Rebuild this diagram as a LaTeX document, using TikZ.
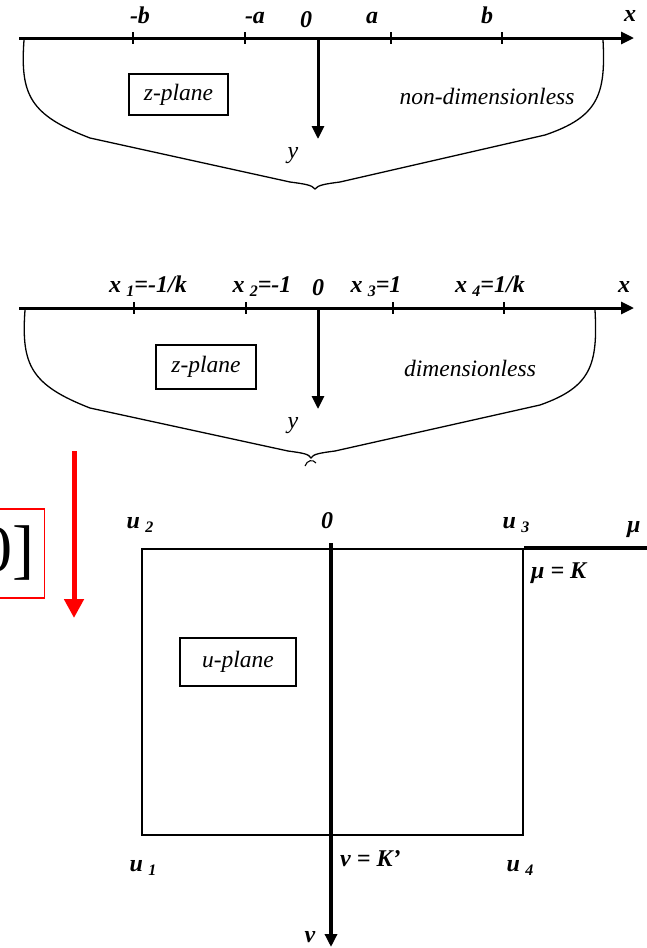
\documentclass[tikz,border=0pt]{standalone}
\usepackage{fontspec}
\setmainfont{Liberation Serif}
\usetikzlibrary{arrows.meta}

% lowered index, as in "x 1"
\newcommand{\lowidx}[1]{\hspace{0.22em}\raisebox{-0.4ex}{\fontsize{16}{16}\selectfont #1}}

\begin{document}
\begin{tikzpicture}[x=1pt, y=-1pt, >={Triangle[length=13pt,width=12pt]},
    axis/.style={line width=3pt, ->},
    tick/.style={line width=1.4pt},
    brace/.style={line width=1.3pt},
    lbl/.style={font=\fontsize{24}{26}\selectfont\bfseries\itshape, anchor=base, inner sep=0pt},
    note/.style={font=\fontsize{23.5}{24}\selectfont\itshape, anchor=base, inner sep=0pt},
    plane/.style={draw, line width=1.6pt, font=\fontsize{23.5}{24}\selectfont\itshape, inner sep=0pt}]
  \useasboundingbox (0,0) rectangle (646,948);
  % ---------------- z-plane, non-dimensionless ----------------
  \coordinate (xl1) at (19,38);
  \coordinate (xr1) at (634,38);
  \coordinate (o1) at (318,38);
  \coordinate (yt1) at (318,139);
  \draw[axis] (xl1) -- (xr1);
  \draw[axis] (o1) -- (yt1);
  \foreach \t in {133,245,391,502} \draw[tick] (\t,32) -- (\t,44);
  \node[lbl] (mb) at (140,23) {-b};
  \node[lbl] (ma) at (255,23) {-a};
  \node[lbl] (z1) at (306,27) {0};
  \node[lbl] (pa) at (372,23) {a};
  \node[lbl] (pb) at (487,23) {b};
  \node[lbl] (x1) at (630,21) {x};
  \node[lbl, font=\fontsize{24}{26}\selectfont\itshape] (y1) at (293,158) {y};
  \node[plane, minimum width=99pt, minimum height=41pt] (zp1) at (178.5,94.5) {z-plane};
  \node[note] (nd) at (487,104) {non-dimensionless};
  \draw[brace] (24,40) .. controls (20,95) and (30,115) .. (90,138) -- (290,182)
     .. controls (305,184) and (312,185) .. (315,189)
     .. controls (318,185) and (325,184) .. (340,182) -- (545,135)
     .. controls (598,117) and (606,95) .. (603,40);
  % ---------------- z-plane, dimensionless ----------------
  \coordinate (xl2) at (19,308);
  \coordinate (xr2) at (634,308);
  \coordinate (o2) at (318,308);
  \coordinate (yt2) at (318,409);
  \draw[axis] (xl2) -- (xr2);
  \draw[axis] (o2) -- (yt2);
  \foreach \t in {134,246,393,504} \draw[tick] (\t,302) -- (\t,314);
  \node[lbl] (q1) at (148,292) {x\lowidx{1}=-1/k};
  \node[lbl] (q2) at (262,292) {x\lowidx{2}=-1};
  \node[lbl] (z2) at (318,295) {0};
  \node[lbl] (q3) at (376,292) {x\lowidx{3}=1};
  \node[lbl] (q4) at (490,292) {x\lowidx{4}=1/k};
  \node[lbl] (x2) at (624,292) {x};
  \node[lbl, font=\fontsize{24}{26}\selectfont\itshape] (y2) at (293,428) {y};
  \node[plane, minimum width=100pt, minimum height=44pt] (zp2) at (206,367) {z-plane};
  \node[note] (dl) at (470,376) {dimensionless};
  \draw[brace] (25,310) .. controls (21,365) and (31,385) .. (90,408) -- (288,451)
     .. controls (303,453) and (309,454) .. (311,458)
     .. controls (313,454) and (320,453) .. (335,451) -- (540,405)
     .. controls (591,387) and (598,365) .. (595,310);
  \draw[line width=1.1pt] (305,466) .. controls (307,460) and (313,459) .. (316,463);
  % ---------------- cut-off red box and arrow ----------------
  \node[draw=red, line width=1.4pt, anchor=east, minimum height=89pt, inner xsep=10pt,
       font=\fontsize{66}{66}\selectfont\rmfamily] (cut) at (45,553.5) {0]};
  \coordinate (rtop) at (74,451);
  \coordinate (rtip) at (74,618);
  \draw[red, line width=5pt, -{Triangle[length=19pt,width=19pt]}] (rtop) -- (rtip);
  % ---------------- u-plane ----------------
  \node[draw, line width=2pt, minimum width=381pt, minimum height=286pt, inner sep=0pt] (rect) at (332.5,692) {};
  \coordinate (vt) at (331,543);
  \coordinate (vb) at (331,947);
  \coordinate (mr) at (648,550);
  \draw[line width=3.5pt, ->] (vt) -- (vb);
  \draw[line width=4pt] (rect.north east) -- (rect.north east -| mr);
  \node[lbl] (u2) at (140,528) {u\lowidx{2}};
  \node[lbl] (z3) at (327,528) {0};
  \node[lbl] (u3) at (516,528) {u\lowidx{3}};
  \node[lbl, anchor=base west] (mu) at (627,532) {μ};
  \node[lbl, anchor=base west] (muk) at (531,578) {μ = K};
  \node[lbl] (u1) at (143,871) {u\lowidx{1}};
  \node[lbl, anchor=base west] (nuk) at (340,866) {ν = K’};
  \node[lbl] (u4) at (520,871) {u\lowidx{4}};
  \node[lbl] (nu) at (310,942) {ν};
  \node[plane, minimum width=116pt, minimum height=48pt] (up) at (238,662) {u-plane};
\end{tikzpicture}
\end{document}
